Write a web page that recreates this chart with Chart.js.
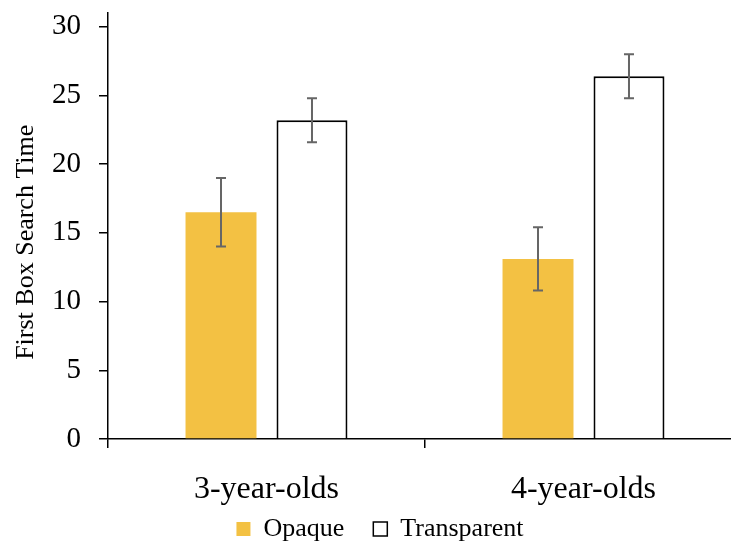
<!DOCTYPE html>
<html>
<head>
<meta charset="utf-8">
<script src="https://cdn.jsdelivr.net/npm/chart.js@4/dist/chart.umd.min.js"></script>
<style>
  html, body { margin: 0; padding: 0; background: #fff; overflow: hidden; }
  #wrap { width: 731px; height: 542px; overflow: hidden; }
</style>
</head>
<body>
<div id="wrap"><canvas id="chart" width="742" height="542"></canvas></div>
<script>
// data
var ageGroups = ["3-year-olds", "4-year-olds"];
var opaqueMeans = [16.5, 13.1];
var opaqueLow = [14.0, 10.8];
var opaqueHigh = [19.0, 15.4];
var transparentMeans = [23.2, 26.4];
var transparentLow = [21.6, 24.8];
var transparentHigh = [24.8, 28.0];
var yTicks = [0, 5, 10, 15, 20, 25, 30];

var serif = "'Liberation Serif', 'DejaVu Serif', serif";

// simple whisker drawing, uses the y scale for every end point
var errorBars = {
    id: "errorBars",
    afterDatasetsDraw: function (chart) {
        var ctx = chart.ctx;
        var yScale = chart.scales.y;
        chart.data.datasets.forEach(function (ds, i) {
            var meta = chart.getDatasetMeta(i);
            meta.data.forEach(function (bar, j) {
                var yLo = yScale.getPixelForValue(ds.errLow[j]);
                var yHi = yScale.getPixelForValue(ds.errHigh[j]);
                ctx.save();
                ctx.strokeStyle = "#666666";
                ctx.lineWidth = 2;
                ctx.beginPath();
                ctx.moveTo(bar.x, yLo);
                ctx.lineTo(bar.x, yHi);
                ctx.moveTo(bar.x - 5, yLo);
                ctx.lineTo(bar.x + 5, yLo);
                ctx.moveTo(bar.x - 5, yHi);
                ctx.lineTo(bar.x + 5, yHi);
                ctx.stroke();
                ctx.restore();
            });
        });
    }
};

// the original legend sits a little right of the canvas centre
var legendNudge = {
    id: "legendNudge",
    afterLayout: function (chart) {
        chart.legend.left += 9;
        chart.legend.right += 9;
    }
};

var ctx = document.getElementById("chart").getContext("2d");
var myChart = new Chart(ctx, {
    type: "bar",
    data: {
        labels: ageGroups,
        datasets: [{
            label: "Opaque",
            data: opaqueMeans,
            errLow: opaqueLow,
            errHigh: opaqueHigh,
            backgroundColor: "#F3C143",
            borderWidth: 0,
            categoryPercentage: 0.574,
            barPercentage: 0.78
        }, {
            label: "Transparent",
            data: transparentMeans,
            errLow: transparentLow,
            errHigh: transparentHigh,
            backgroundColor: "#FFFFFF",
            borderColor: "#000000",
            borderWidth: 2,
            borderSkipped: "start",
            categoryPercentage: 0.574,
            barPercentage: 0.78
        }]
    },
    options: {
        responsive: false,
        animation: false,
        layout: { padding: { top: 13, left: 0, right: 0, bottom: -10 } },
        scales: {
            x: {
                grid: {
                    offset: true,
                    drawOnChartArea: false,
                    color: "#000",
                    tickLength: 9,
                    lineWidth: 1.5
                },
                border: { color: "#000", width: 1.5 },
                ticks: {
                    font: { family: serif, size: 32 },
                    color: "#000",
                    padding: 22
                },
                afterFit: function (scale) { scale.height = 74; }
            },
            y: {
                min: 0,
                max: 31,
                afterBuildTicks: function (scale) {
                    scale.ticks = yTicks.map(function (v) { return { value: v }; });
                },
                grid: {
                    drawOnChartArea: false,
                    color: "#000",
                    tickLength: 9,
                    lineWidth: 1.5
                },
                border: { color: "#000", width: 1.5 },
                ticks: {
                    font: { family: serif, size: 29 },
                    color: "#000",
                    padding: 18
                },
                title: {
                    display: true,
                    // trailing spaces push the rotated title down a bit, like the original
                    text: "First Box Search Time     ",
                    font: { family: serif, size: 26 },
                    color: "#000",
                    padding: { top: 11, bottom: 0 }
                },
                afterFit: function (scale) {
                    scale.width = 108;
                    scale.paddingTop = 0;
                    scale.paddingBottom = 0;
                }
            }
        },
        plugins: {
            legend: {
                position: "bottom",
                labels: {
                    font: { family: serif, size: 26 },
                    color: "#000",
                    boxWidth: 14,
                    boxHeight: 14,
                    padding: 3,
                    generateLabels: function (chart) {
                        var items = Chart.defaults.plugins.legend.labels.generateLabels(chart);
                        items[0].text = items[0].text + "    ";
                        items[1].lineWidth = 1.5;
                        return items;
                    }
                }
            },
            tooltip: { enabled: false }
        }
    },
    plugins: [errorBars, legendNudge]
});
</script>
</body>
</html>
